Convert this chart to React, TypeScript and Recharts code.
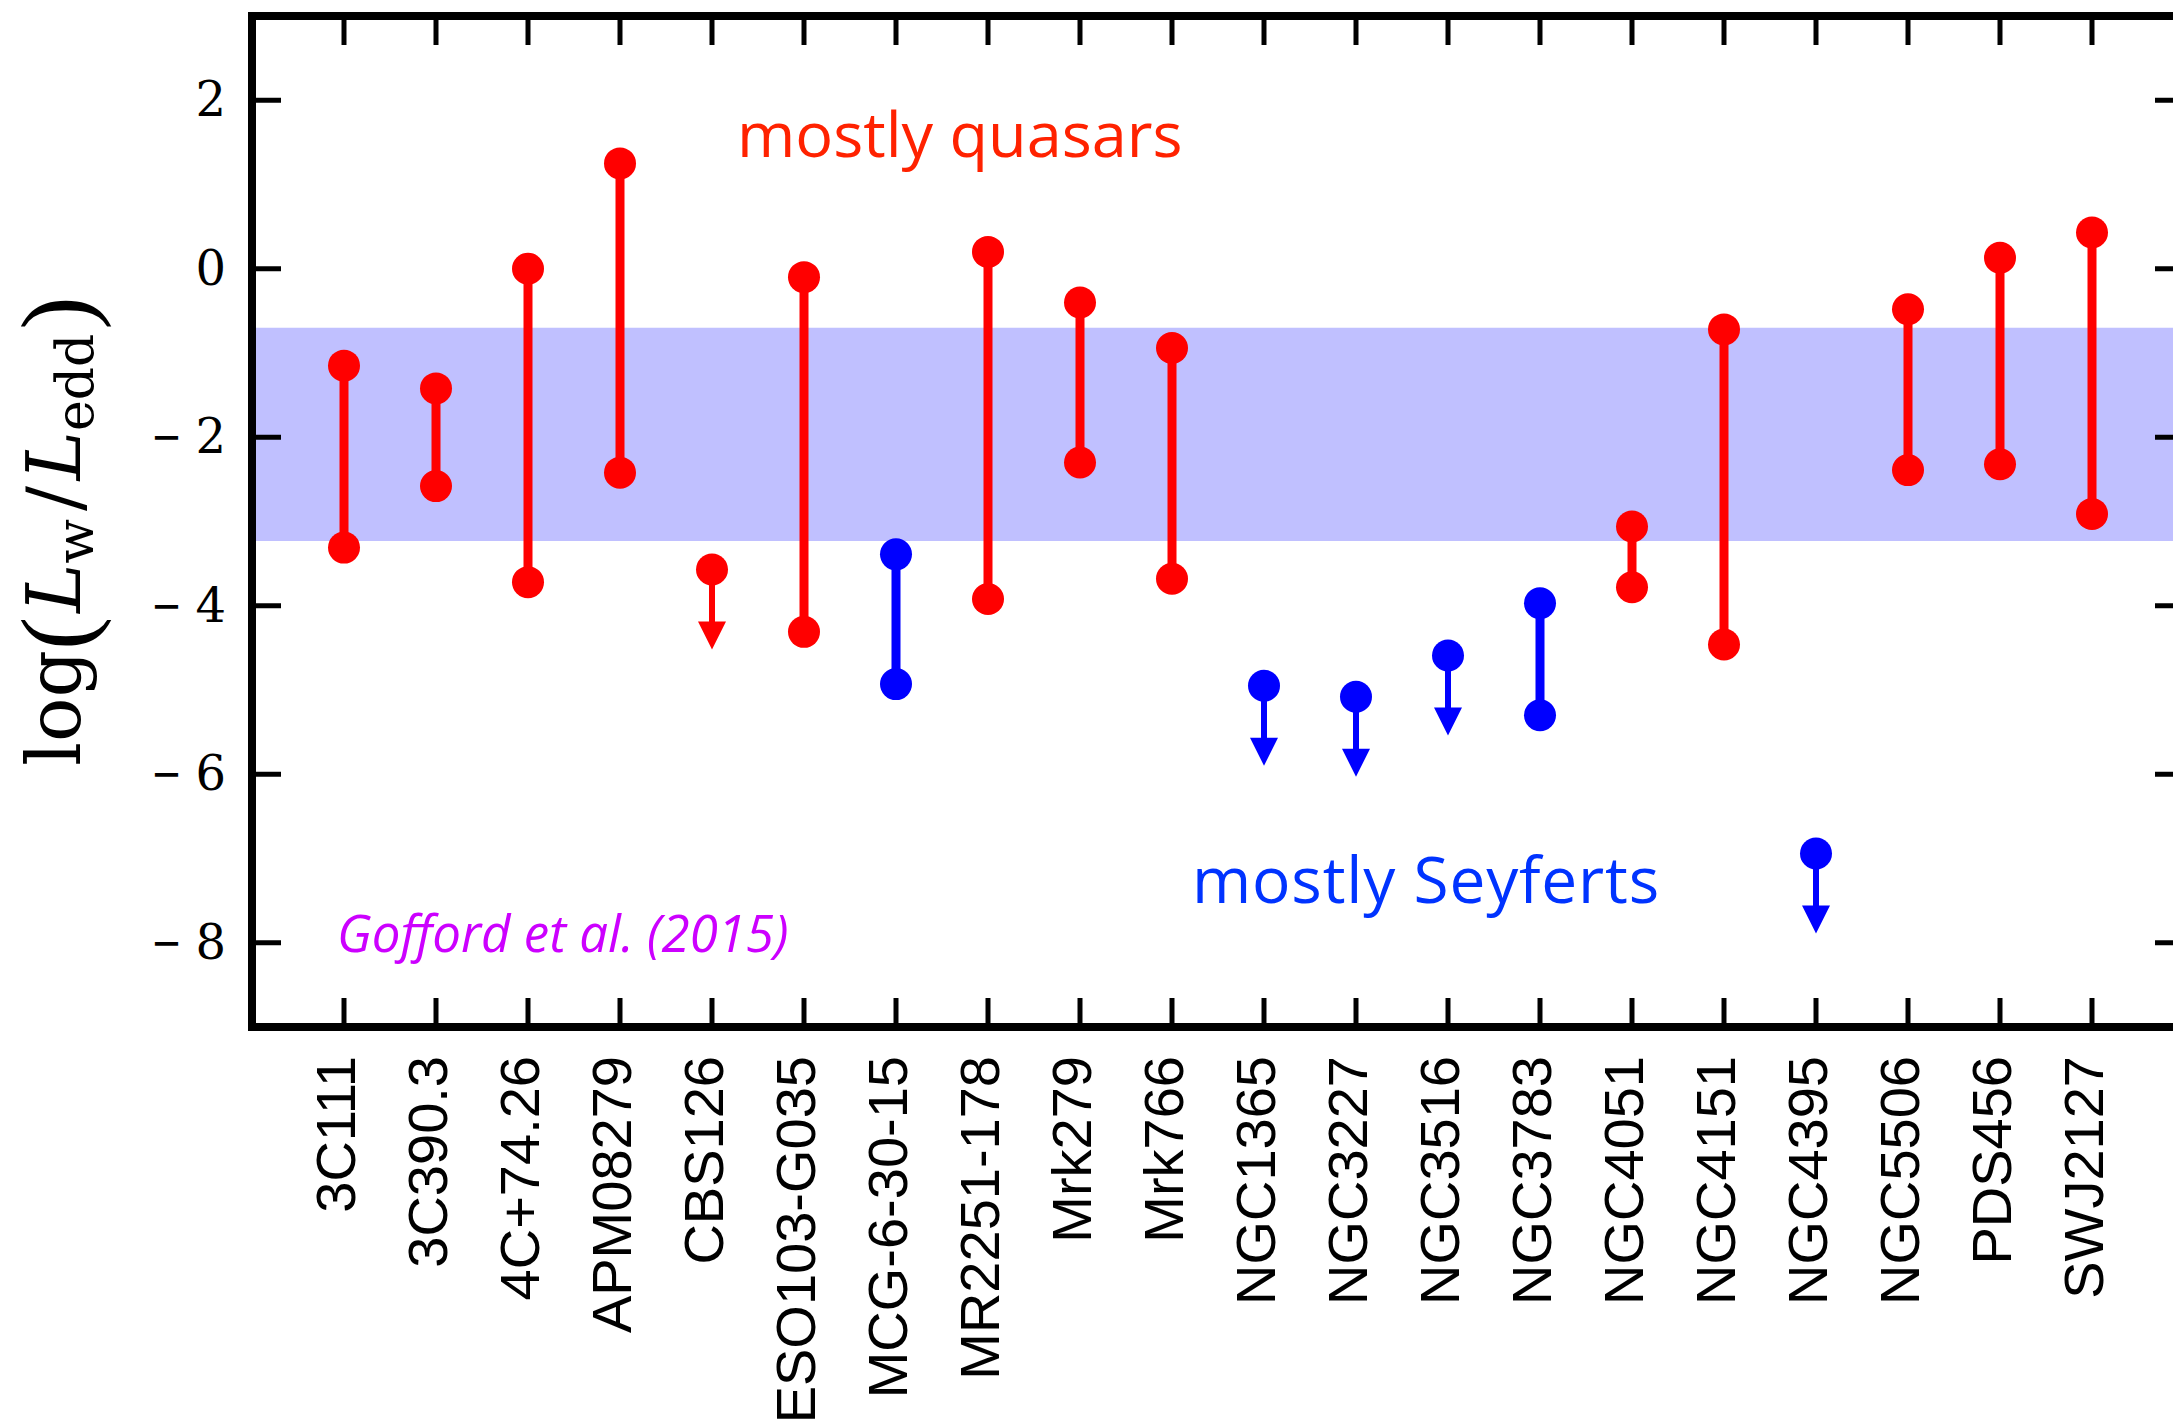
import React from 'react';
import { ComposedChart, Line, Scatter, XAxis, YAxis, ReferenceArea } from 'recharts';

// ---------- data ----------
const SOURCES = [
  '3C111', '3C390.3', '4C+74.26', 'APM08279', 'CBS126', 'ESO103-G035', 'MCG-6-30-15',
  'MR2251-178', 'Mrk279', 'Mrk766', 'NGC1365', 'NGC3227', 'NGC3516', 'NGC3783',
  'NGC4051', 'NGC4151', 'NGC4395', 'NGC5506', 'PDS456', 'SWJ2127',
];
// Q = mostly quasars (red), S = mostly Seyferts (blue)
const GROUP = ['Q', 'Q', 'Q', 'Q', 'Q', 'Q', 'S', 'Q', 'Q', 'Q', 'S', 'S', 'S', 'S', 'Q', 'Q', 'S', 'Q', 'Q', 'Q'];
const HIGH = [-1.15, -1.42, 0.0, 1.25, null, -0.1, -3.39, 0.2, -0.4, -0.94, null, null, null, -3.97, -3.06, -0.72, null, -0.48, 0.13, 0.43];
const LOW = [-3.31, -2.58, -3.72, -2.42, null, -4.31, -4.93, -3.92, -2.3, -3.68, null, null, null, -5.3, -3.78, -4.46, null, -2.39, -2.32, -2.91];
const UPPER_LIMIT = [null, null, null, null, -3.57, null, null, null, null, null, -4.95, -5.08, -4.59, null, null, null, -6.94, null, null, null];
const Y_TICKS = [2, 0, -2, -4, -6, -8];
const X_TICKS = SOURCES.map((_, i) => i + 1);
const BAND_LOW = -3.23;
const BAND_HIGH = -0.7;

// ---------- styles ----------
const COLORS: Record<string, string> = { Q: '#ff0000', S: '#0000ff' };
const AXIS_LINE = { stroke: '#000', strokeWidth: 8, strokeLinecap: 'square' as const };

// tables built from the arrays
const PAIRS = SOURCES.map((s, i) =>
  HIGH[i] != null && LOW[i] != null
    ? { key: s, group: GROUP[i], data: [{ x: i + 1, y: HIGH[i] }, { x: i + 1, y: LOW[i] }] }
    : null
).filter(Boolean) as { key: string; group: string; data: { x: number; y: number }[] }[];

const LIMITS = SOURCES.map((s, i) =>
  UPPER_LIMIT[i] != null ? { x: i + 1, y: UPPER_LIMIT[i] as number, group: GROUP[i], name: s } : null
).filter(Boolean) as { x: number; y: number; group: string; name: string }[];

const BottomTick = (props: any) => {
  const { x, y, payload } = props;
  const ly = y + 29;
  return (
    <g>
      <line x1={x} y1={y} x2={x} y2={y - 29} stroke="#000" strokeWidth={5} />
      <text
        x={x}
        y={ly}
        dy={11}
        transform={`rotate(-90 ${x} ${ly})`}
        textAnchor="end"
        fontFamily="'Liberation Sans', Arial, Helvetica, sans-serif"
        fontSize={56}
        fill="#000"
      >
        {SOURCES[payload.value - 1]}
      </text>
    </g>
  );
};

const TopTick = (props: any) => {
  const { x, y } = props;
  return <line x1={x} y1={y} x2={x} y2={y + 29} stroke="#000" strokeWidth={5} />;
};

const LeftTick = (props: any) => {
  const { x, y, payload } = props;
  const v = payload.value as number;
  return (
    <g>
      <line x1={x} y1={y} x2={x + 29} y2={y} stroke="#000" strokeWidth={5} />
      {v < 0 && (
        <text
          x={x - 101}
          y={y}
          dy={16}
          textLength={31}
          lengthAdjust="spacingAndGlyphs"
          fontFamily="'DejaVu Serif', serif"
          fontSize={48}
          fill="#000"
        >
          {'\u2212'}
        </text>
      )}
      <text
        x={x - 26}
        y={y}
        dy={16}
        textAnchor="end"
        fontFamily="'DejaVu Serif', serif"
        fontSize={48}
        fill="#000"
      >
        {String(Math.abs(v))}
      </text>
    </g>
  );
};

const RightTick = (props: any) => {
  const { x, y } = props;
  return <line x1={x} y1={y} x2={x - 29} y2={y} stroke="#000" strokeWidth={5} />;
};

const LimitShape = (props: any) => {
  const { cx, cy, payload } = props;
  const c = COLORS[payload.group];
  return (
    <g>
      <line x1={cx} y1={cy} x2={cx} y2={cy + 54} stroke={c} strokeWidth={6} />
      <polygon points={`${cx - 14},${cy + 52} ${cx + 14},${cy + 52} ${cx},${cy + 80}`} fill={c} />
      <circle cx={cx} cy={cy} r={16} fill={c} />
    </g>
  );
};

export default function App() {
  return (
    <div
      style={{
        position: 'fixed',
        left: 0,
        top: 0,
        width: 2173,
        height: 1422,
        overflow: 'hidden',
        background: '#fff',
      }}
    >
      <ComposedChart width={2200} height={1422} margin={{ top: 15, right: 15, left: 0, bottom: 0 }}>
        <XAxis
          xAxisId={0}
          dataKey="x"
          type="number"
          domain={[0, 21]}
          ticks={X_TICKS}
          interval={0}
          allowDataOverflow
          height={395}
          tickSize={0}
          tickMargin={0}
          tickLine={false}
          axisLine={AXIS_LINE}
          tick={<BottomTick />}
        />
        <XAxis
          xAxisId="top"
          orientation="top"
          dataKey="x"
          type="number"
          domain={[0, 21]}
          ticks={X_TICKS}
          interval={0}
          allowDataOverflow
          height={1}
          tickSize={0}
          tickMargin={0}
          tickLine={false}
          axisLine={AXIS_LINE}
          tick={<TopTick />}
        />
        <YAxis
          yAxisId={0}
          dataKey="y"
          type="number"
          domain={[-9, 3]}
          ticks={Y_TICKS}
          interval={0}
          allowDataOverflow
          width={252}
          tickSize={0}
          tickMargin={0}
          tickLine={false}
          axisLine={AXIS_LINE}
          tick={<LeftTick />}
        />
        <YAxis
          yAxisId="right"
          orientation="right"
          dataKey="y"
          type="number"
          domain={[-9, 3]}
          ticks={Y_TICKS}
          interval={0}
          allowDataOverflow
          width={1}
          tickSize={0}
          tickMargin={0}
          tickLine={false}
          axisLine={AXIS_LINE}
          tick={<RightTick />}
        />
        <ReferenceArea
          xAxisId={0}
          yAxisId={0}
          y1={BAND_LOW}
          y2={BAND_HIGH}
          fill="#c0c0ff"
          fillOpacity={1}
          stroke="none"
          ifOverflow="hidden"
        />
        {PAIRS.map((p) => (
          <Line
            key={p.key}
            xAxisId={0}
            yAxisId={0}
            data={p.data}
            dataKey="y"
            stroke={COLORS[p.group]}
            strokeWidth={9}
            dot={{ r: 16, fill: COLORS[p.group], stroke: COLORS[p.group], strokeWidth: 0 }}
            activeDot={false}
            isAnimationActive={false}
            legendType="none"
          />
        ))}
        <Scatter
          xAxisId={0}
          yAxisId={0}
          data={LIMITS}
          dataKey="y"
          shape={<LimitShape />}
          isAnimationActive={false}
          legendType="none"
        />
      </ComposedChart>
      <svg
        width={2173}
        height={1422}
        style={{ position: 'absolute', left: 0, top: 0, pointerEvents: 'none' }}
      >
        <text
          transform="translate(80 531) rotate(-90)"
          textAnchor="middle"
          fontFamily="'DejaVu Serif', serif"
          fontSize={74}
          fill="#000"
        >
          <tspan>log</tspan>
          <tspan fontFamily="'Liberation Serif', serif" fontSize={100} dy={10}>(</tspan>
          <tspan dy={-10} dx={4} fontStyle="italic">L</tspan>
          <tspan fontSize={52} dy={13}>w</tspan>
          <tspan dy={-13} dx={8}>/</tspan>
          <tspan dx={6} fontStyle="italic">L</tspan>
          <tspan fontSize={52} dy={13}>edd</tspan>
          <tspan fontFamily="'Liberation Serif', serif" fontSize={100} dy={-3} dx={4}>)</tspan>
        </text>
        <text x={737} y={157} fontFamily="'Open Sans', sans-serif" fontSize={63} fill="#ff2200">
          mostly quasars
        </text>
        <text x={1192} y={903} fontFamily="'Open Sans', sans-serif" fontSize={64} letterSpacing={0.8} fill="#0033ff">
          mostly Seyferts
        </text>
        <text
          x={337}
          y={952}
          fontFamily="'Open Sans', sans-serif"
          fontStyle="italic"
          fontSize={51}
          fill="#cc00ff"
        >
          Gofford et al. (2015)
        </text>
      </svg>
    </div>
  );
}
